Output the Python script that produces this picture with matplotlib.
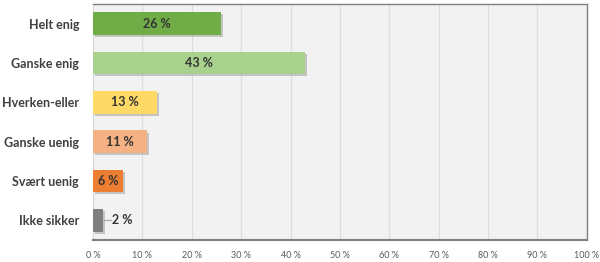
import matplotlib
matplotlib.use('Agg')
import matplotlib.pyplot as plt
import matplotlib.patheffects as pe

# data
categories = ['Helt enig', 'Ganske enig', 'Hverken-eller', 'Ganske uenig',
              'Svært uenig', 'Ikke sikker']
values = [26, 43, 13, 11, 6, 2]
colors = ['#70ad47', '#a9d18e', '#ffd966', '#f4b183', '#ed7d31', '#7f7f7f']
ticks = list(range(0, 101, 10))

plt.rcParams['font.family'] = ['Lato', 'DejaVu Sans']

fig = plt.figure(figsize=(6.0, 2.62), dpi=100)
ax = fig.add_axes([0.155, 0.084, 0.823, 0.901])
ax.set_facecolor('#f2f2f2')

y = list(range(len(categories)))
shadow = [pe.SimplePatchShadow(offset=(1.5, -1.5), shadow_rgbFace='#a6a6a6', alpha=0.6),
          pe.Normal()]
bars = ax.barh(y, values, height=0.57, color=colors, zorder=3)
for b in bars:
    b.set_path_effects(shadow)

for yi, v in zip(y, values):
    if v >= 5:
        ax.text(v / 2, yi, f'{v} %', ha='center', va='center', fontsize=9,
                fontweight='bold', color='#333333', zorder=4)
    else:
        ax.plot([v + 0.3, v + 1.6], [yi, yi], color='#a6a6a6', lw=0.8, zorder=4)
        ax.text(v + 1.8, yi, f'{v} %', ha='left', va='center', fontsize=9,
                fontweight='bold', color='#333333', zorder=4)

ax.set_xlim(0, 100)
ax.set_ylim(len(categories) - 0.5, -0.5)
ax.set_xticks(ticks)
ax.set_xticklabels([f'{t} %' for t in ticks], fontsize=6.5, color='#595959')
ax.set_yticks(y)
ax.set_yticklabels(categories, fontsize=9, fontweight='bold', color='#404040')
ax.tick_params(length=0, pad=8)
ax.tick_params(axis='y', pad=10)
ax.grid(axis='x', color='#dcdcdc', lw=0.9, zorder=1)

for side in ['top', 'right']:
    ax.spines[side].set_color('#808080')
    ax.spines[side].set_linewidth(1.0)
ax.spines['bottom'].set_color('#7f7f7f')
ax.spines['bottom'].set_linewidth(1.5)
ax.spines['left'].set_color('#d9d9d9')
ax.spines['left'].set_linewidth(0.8)

fig.savefig('out.png', dpi=100)
